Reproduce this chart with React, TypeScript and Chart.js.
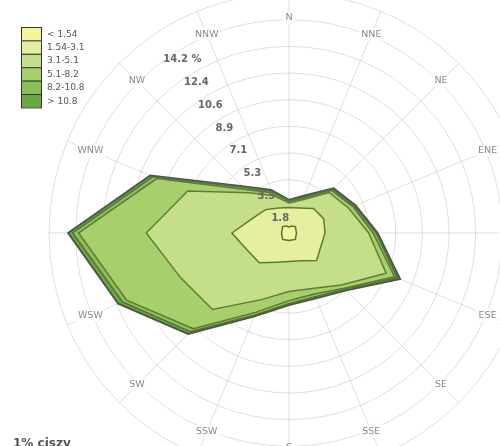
import React, { useEffect, useRef } from 'react';
import { Chart, registerables } from 'chart.js';
Chart.register(...registerables);

const directions = ['N', 'NNE', 'NE', 'ENE', 'E', 'ESE', 'SE', 'SSE', 'S', 'SSW', 'SW', 'WSW', 'W', 'WNW', 'NW', 'NNW'];
const speedClasses = ['< 1.54', '1.54-3.1', '3.1-5.1', '5.1-8.2', '8.2-10.8', '> 10.8'];
// cumulative frequency (%) of winds up to and including each speed class, per direction
const cumLt154 = [0.4, 0.5, 0.6, 0.5, 0.5, 0.5, 0.6, 0.5, 0.5, 0.5, 0.6, 0.5, 0.5, 0.5, 0.6, 0.5];
const cumTo31 = [1.7, 1.8, 2.3, 2.5, 2.4, 2.3, 2.6, 2.0, 1.9, 2.1, 2.8, 3.0, 3.8, 2.6, 2.2, 1.8];
const cumTo51 = [2.0, 2.4, 3.8, 4.3, 5.3, 7.0, 4.9, 4.0, 3.9, 4.8, 7.2, 7.8, 9.5, 7.3, 3.8, 2.7];
const cumTo82 = [2.1, 2.5, 4.0, 4.6, 5.6, 7.6, 5.2, 4.4, 4.5, 5.7, 9.0, 11.7, 14.0, 9.5, 4.1, 2.9];
const cumTo108 = [2.15, 2.6, 4.1, 4.7, 5.8, 7.8, 5.3, 4.6, 4.7, 5.9, 9.3, 12.0, 14.4, 9.8, 4.3, 3.0];
const cumAll = [2.2, 2.7, 4.2, 4.8, 5.9, 8.0, 5.4, 4.7, 4.8, 6.0, 9.5, 12.3, 14.7, 10.0, 4.4, 3.1];
const ringValues = [1.775, 3.55, 5.325, 7.1, 8.875, 10.65, 12.425, 14.2];
const ringLabels = ['1.8', '3.5', '5.3', '7.1', '8.9', '10.6', '12.4', '14.2 %'];
const calmText = '1% ciszy';

const classFills = ['#f4f59a', '#e6efa0', '#c4df87', '#a7cf6b', '#8dbf58', '#6aa843'];
const classBorders = ['#5c7434', '#5c7a34', '#5f7f38', '#5a7a36', '#566f3c', '#4d5647'];

const CANVAS_W = 600;
const CANVAS_H = 520;
const OFF_X = 11; // page -> canvas
const OFF_Y = 27;
const LABEL_R = 215;
const FONT = '"DejaVu Sans", sans-serif';

const overlayPlugin = {
  id: 'windroseOverlay',
  beforeDraw(chart: any) {
    const ctx = chart.ctx;
    ctx.save();
    ctx.fillStyle = '#ffffff';
    ctx.fillRect(0, 0, chart.width, chart.height);
    ctx.restore();
  },
  afterDraw(chart: any) {
    const ctx = chart.ctx;
    const scale = chart.scales.r;
    const cx = scale.xCenter;
    const cy = scale.yCenter;
    ctx.save();
    // direction labels (hidden where the rose covers them)
    ctx.font = `9.5px ${FONT}`;
    ctx.textAlign = 'center';
    ctx.textBaseline = 'middle';
    directions.forEach((d, i) => {
      if (scale.getDistanceFromCenterForValue(cumAll[i]) > LABEL_R - 8) return;
      const a = (i * 22.5 * Math.PI) / 180;
      const x = cx + Math.sin(a) * LABEL_R;
      const y = cy - Math.cos(a) * LABEL_R;
      const w = ctx.measureText(d).width;
      ctx.fillStyle = '#ffffff';
      ctx.fillRect(x - w / 2 - 2, y - 6, w + 4, 12);
      ctx.fillStyle = '#8a8a8a';
      ctx.fillText(d, x, y);
    });
    // ring value labels
    ctx.font = `bold 10px ${FONT}`;
    ctx.fillStyle = '#666666';
    const ang = (31.6 * Math.PI) / 180;
    ringValues.forEach((v, i) => {
      const d = scale.getDistanceFromCenterForValue(v) - 10;
      ctx.fillText(ringLabels[i], cx - Math.sin(ang) * d, cy - Math.cos(ang) * d);
    });
    // legend
    const lx = 21 + OFF_X;
    const ly = 27 + OFF_Y;
    const rowH = 13.4;
    speedClasses.forEach((c, i) => {
      ctx.fillStyle = classFills[i];
      ctx.fillRect(lx, ly + i * rowH, 21, rowH);
      ctx.strokeStyle = '#333333';
      ctx.lineWidth = 1;
      ctx.strokeRect(lx + 0.5, ly + i * rowH + 0.5, 20, rowH);
      ctx.fillStyle = '#555555';
      ctx.font = `9px ${FONT}`;
      ctx.textAlign = 'left';
      ctx.fillText(c, lx + 26, ly + i * rowH + rowH / 2 + 0.5);
    });
    // calm
    ctx.font = `bold 12px ${FONT}`;
    ctx.fillStyle = '#555555';
    ctx.textAlign = 'left';
    ctx.textBaseline = 'alphabetic';
    ctx.fillText(calmText, 13 + OFF_X, 447 + OFF_Y);
    ctx.restore();
  },
};

export default function App() {
  const ref = useRef<HTMLCanvasElement>(null);
  useEffect(() => {
    if (!ref.current) return;
    const series = [cumLt154, cumTo31, cumTo51, cumTo82, cumTo108, cumAll];
    const chart = new Chart(ref.current, {
      type: 'radar',
      data: {
        labels: directions,
        datasets: series.map((s, i) => ({
          label: speedClasses[i],
          data: s,
          fill: 'origin',
          backgroundColor: classFills[i],
          borderColor: classBorders[i],
          borderWidth: i === 5 ? 2 : 1.5,
          pointRadius: 0,
          tension: 0,
        })),
      },
      options: {
        responsive: false,
        animation: false,
        devicePixelRatio: 1,
        layout: { padding: { left: 60, right: 60, top: 20, bottom: 20 } },
        plugins: { legend: { display: false }, title: { display: false }, tooltip: { enabled: false } },
        elements: { line: { borderJoinStyle: 'miter' } },
        scales: {
          r: {
            min: 0,
            max: 15.975,
            z: 1,
            startAngle: 0,
            ticks: { display: false, stepSize: 1.775 },
            pointLabels: { display: false },
            grid: { circular: true, color: 'rgba(140,140,140,0.28)', lineWidth: 1 },
            angleLines: { color: 'rgba(140,140,140,0.28)', lineWidth: 1 },
          },
        },
      },
      plugins: [overlayPlugin],
    } as any);
    return () => chart.destroy();
  }, []);
  return (
    <div style={{ position: 'absolute', left: 0, top: 0, width: 500, height: 446, overflow: 'hidden', background: '#fff' }}>
      <canvas
        ref={ref}
        width={CANVAS_W}
        height={CANVAS_H}
        style={{ position: 'absolute', left: -OFF_X, top: -OFF_Y, width: CANVAS_W, height: CANVAS_H }}
      />
    </div>
  );
}
